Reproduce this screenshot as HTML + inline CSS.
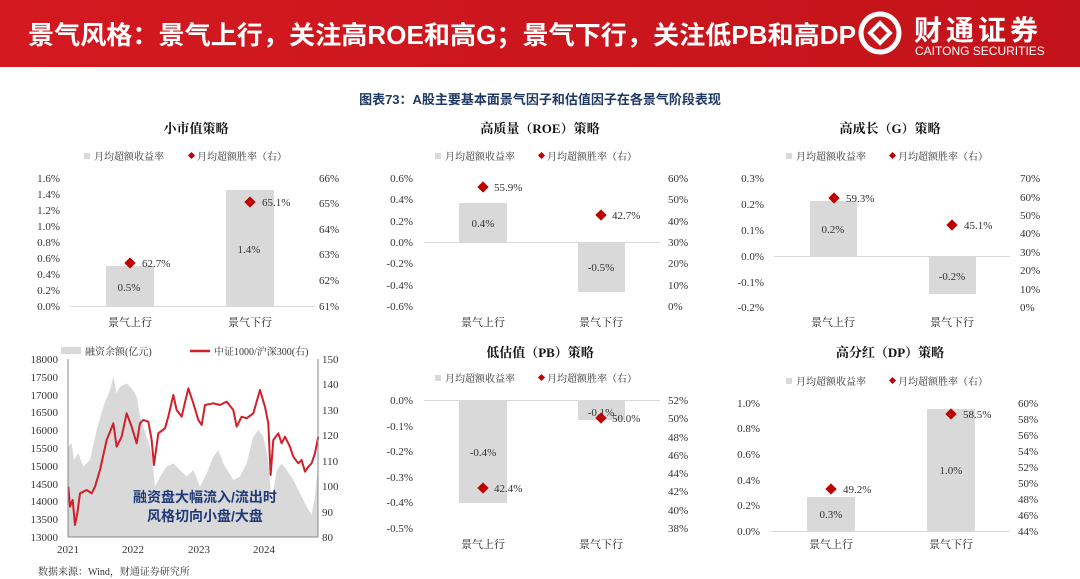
<!DOCTYPE html>
<html><head><meta charset="utf-8"><style>
body{margin:0;background:#fff;}
svg{display:block;}
.t{font-family:"Liberation Serif","Noto Serif CJK SC",serif;font-size:11px;fill:#333;}
.c{font-family:"Liberation Serif","Noto Serif CJK SC",serif;font-size:11px;fill:#222;}
.h{font-family:"Liberation Serif","Noto Serif CJK SC",serif;font-size:13px;font-weight:bold;fill:#111;}
.lg{font-family:"Liberation Serif","Noto Serif CJK SC",serif;font-size:10px;fill:#333;}
</style></head><body>
<svg width="1080" height="579" xmlns="http://www.w3.org/2000/svg">
<defs><linearGradient id="rg" x1="0" x2="1"><stop offset="0" stop-color="#D41920"/><stop offset="1" stop-color="#C3131A"/></linearGradient></defs>
<rect x="0" y="0" width="1080" height="67" fill="url(#rg)"/>
<text x="28" y="44" font-family="Liberation Sans,'Noto Sans CJK SC',sans-serif" font-size="25.5" font-weight="bold" fill="#fff" textLength="828" lengthAdjust="spacingAndGlyphs">景气风格：景气上行，关注高ROE和高G；景气下行，关注低PB和高DP</text>
<circle cx="880" cy="33" r="19" fill="none" stroke="#fff" stroke-width="5"/>
<rect x="871" y="24" width="18" height="18" fill="#fff" transform="rotate(45 880 33)"/>
<rect x="875" y="28" width="10" height="10" fill="#C8161D" transform="rotate(45 880 33)"/>
<text x="914" y="40" font-family="'Noto Sans CJK SC',sans-serif" font-size="28" font-weight="bold" fill="#fff" letter-spacing="4">财通证券</text>
<text x="915" y="55" font-family="Liberation Sans,sans-serif" font-size="12" fill="#fff">CAITONG SECURITIES</text>
<text x="540" y="104" text-anchor="middle" font-family="Liberation Sans,'Noto Sans CJK SC',sans-serif" font-size="13" font-weight="bold" fill="#1F3864">图表73：A股主要基本面景气因子和估值因子在各景气阶段表现</text>

<!-- Panel 1 -->
<text class="h" x="196" y="133" text-anchor="middle">小市值策略</text>
<rect x="84" y="153" width="6" height="6" fill="#d9d9d9"/><text class="lg" x="94" y="160">月均超额收益率</text>
<rect x="189" y="153" width="5" height="5" fill="#C00000" transform="rotate(45 191.5 155.5)"/><text class="lg" x="197" y="160">月均超额胜率（右）</text>
<g class="t" text-anchor="end">
<text x="60" y="182">1.6%</text><text x="60" y="198">1.4%</text><text x="60" y="214">1.2%</text><text x="60" y="230">1.0%</text><text x="60" y="246">0.8%</text><text x="60" y="262">0.6%</text><text x="60" y="278">0.4%</text><text x="60" y="294">0.2%</text><text x="60" y="310">0.0%</text></g>
<g class="t"><text x="319" y="182">66%</text><text x="319" y="207">65%</text><text x="319" y="233">64%</text><text x="319" y="258">63%</text><text x="319" y="284">62%</text><text x="319" y="310">61%</text></g>
<rect x="106" y="266" width="48" height="40" fill="#d9d9d9"/><rect x="226" y="190" width="48" height="116" fill="#d9d9d9"/>
<line x1="70" y1="306.5" x2="315" y2="306.5" stroke="#d9d9d9"/>
<rect x="126" y="259" width="8" height="8" fill="#C00000" transform="rotate(45 130 263)"/><text class="t" x="142" y="267">62.7%</text>
<rect x="246" y="198" width="8" height="8" fill="#C00000" transform="rotate(45 250 202)"/><text class="t" x="262" y="206">65.1%</text>
<text class="t" x="129" y="291" text-anchor="middle">0.5%</text><text class="t" x="249" y="253" text-anchor="middle">1.4%</text>
<text class="c" x="130" y="326" text-anchor="middle">景气上行</text><text class="c" x="250" y="326" text-anchor="middle">景气下行</text>

<!-- Panel 2 ROE -->
<text class="h" x="540" y="133" text-anchor="middle">高质量（ROE）策略</text>
<rect x="435" y="153" width="6" height="6" fill="#d9d9d9"/><text class="lg" x="445" y="160">月均超额收益率</text>
<rect x="539" y="153" width="5" height="5" fill="#C00000" transform="rotate(45 541.5 155.5)"/><text class="lg" x="547" y="160">月均超额胜率（右）</text>
<g class="t" text-anchor="end"><text x="413" y="182">0.6%</text><text x="413" y="203">0.4%</text><text x="413" y="225">0.2%</text><text x="413" y="246">0.0%</text><text x="413" y="267">-0.2%</text><text x="413" y="289">-0.4%</text><text x="413" y="310">-0.6%</text></g>
<g class="t"><text x="668" y="182">60%</text><text x="668" y="203">50%</text><text x="668" y="225">40%</text><text x="668" y="246">30%</text><text x="668" y="267">20%</text><text x="668" y="289">10%</text><text x="668" y="310">0%</text></g>
<rect x="459" y="203" width="48" height="39" fill="#d9d9d9"/><rect x="578" y="242" width="47" height="50" fill="#d9d9d9"/>
<line x1="424" y1="242.5" x2="660" y2="242.5" stroke="#d9d9d9"/>
<rect x="479" y="183" width="8" height="8" fill="#C00000" transform="rotate(45 483 187)"/><text class="t" x="494" y="191">55.9%</text>
<rect x="597" y="211" width="8" height="8" fill="#C00000" transform="rotate(45 601 215)"/><text class="t" x="612" y="219">42.7%</text>
<text class="t" x="483" y="227" text-anchor="middle">0.4%</text><text class="t" x="601" y="271" text-anchor="middle">-0.5%</text>
<text class="c" x="483" y="326" text-anchor="middle">景气上行</text><text class="c" x="601" y="326" text-anchor="middle">景气下行</text>

<!-- Panel 3 G -->
<text class="h" x="890" y="133" text-anchor="middle">高成长（G）策略</text>
<rect x="786" y="153" width="6" height="6" fill="#d9d9d9"/><text class="lg" x="796" y="160">月均超额收益率</text>
<rect x="890" y="153" width="5" height="5" fill="#C00000" transform="rotate(45 892.5 155.5)"/><text class="lg" x="898" y="160">月均超额胜率（右）</text>
<g class="t" text-anchor="end"><text x="764" y="182">0.3%</text><text x="764" y="208">0.2%</text><text x="764" y="234">0.1%</text><text x="764" y="260">0.0%</text><text x="764" y="286">-0.1%</text><text x="764" y="311">-0.2%</text></g>
<g class="t"><text x="1020" y="182">70%</text><text x="1020" y="201">60%</text><text x="1020" y="219">50%</text><text x="1020" y="237">40%</text><text x="1020" y="256">30%</text><text x="1020" y="274">20%</text><text x="1020" y="293">10%</text><text x="1020" y="311">0%</text></g>
<rect x="810" y="201" width="47" height="55" fill="#d9d9d9"/><rect x="929" y="256" width="47" height="38" fill="#d9d9d9"/>
<line x1="774" y1="256.5" x2="1010" y2="256.5" stroke="#d9d9d9"/>
<rect x="830" y="194" width="8" height="8" fill="#C00000" transform="rotate(45 834 198)"/><text class="t" x="846" y="202">59.3%</text>
<rect x="948" y="221" width="8" height="8" fill="#C00000" transform="rotate(45 952 225)"/><text class="t" x="964" y="229">45.1%</text>
<text class="t" x="833" y="233" text-anchor="middle">0.2%</text><text class="t" x="952" y="280" text-anchor="middle">-0.2%</text>
<text class="c" x="833" y="326" text-anchor="middle">景气上行</text><text class="c" x="952" y="326" text-anchor="middle">景气下行</text>

<!-- Panel 4 PB -->
<text class="h" x="540" y="357" text-anchor="middle">低估值（PB）策略</text>
<rect x="435" y="375" width="6" height="6" fill="#d9d9d9"/><text class="lg" x="445" y="382">月均超额收益率</text>
<rect x="539" y="375" width="5" height="5" fill="#C00000" transform="rotate(45 541.5 377.5)"/><text class="lg" x="547" y="382">月均超额胜率（右）</text>
<g class="t" text-anchor="end"><text x="413" y="404">0.0%</text><text x="413" y="430">-0.1%</text><text x="413" y="455">-0.2%</text><text x="413" y="481">-0.3%</text><text x="413" y="506">-0.4%</text><text x="413" y="532">-0.5%</text></g>
<g class="t"><text x="668" y="404">52%</text><text x="668" y="422">50%</text><text x="668" y="441">48%</text><text x="668" y="459">46%</text><text x="668" y="477">44%</text><text x="668" y="495">42%</text><text x="668" y="514">40%</text><text x="668" y="532">38%</text></g>
<rect x="459" y="400" width="48" height="103" fill="#d9d9d9"/><rect x="578" y="400" width="47" height="20" fill="#d9d9d9"/>
<line x1="424" y1="400.5" x2="660" y2="400.5" stroke="#d9d9d9"/>
<text class="t" x="483" y="456" text-anchor="middle">-0.4%</text><text class="t" x="601" y="416" text-anchor="middle">-0.1%</text>
<rect x="479" y="484" width="8" height="8" fill="#C00000" transform="rotate(45 483 488)"/><text class="t" x="494" y="492">42.4%</text>
<rect x="597" y="414" width="8" height="8" fill="#C00000" transform="rotate(45 601 418)"/><text class="t" x="612" y="422">50.0%</text>
<text class="c" x="483" y="548" text-anchor="middle">景气上行</text><text class="c" x="601" y="548" text-anchor="middle">景气下行</text>

<!-- Panel 5 DP -->
<text class="h" x="890" y="357" text-anchor="middle">高分红（DP）策略</text>
<rect x="786" y="378" width="6" height="6" fill="#d9d9d9"/><text class="lg" x="796" y="385">月均超额收益率</text>
<rect x="890" y="378" width="5" height="5" fill="#C00000" transform="rotate(45 892.5 380.5)"/><text class="lg" x="898" y="385">月均超额胜率（右）</text>
<g class="t" text-anchor="end"><text x="760" y="407">1.0%</text><text x="760" y="432">0.8%</text><text x="760" y="458">0.6%</text><text x="760" y="484">0.4%</text><text x="760" y="509">0.2%</text><text x="760" y="535">0.0%</text></g>
<g class="t"><text x="1018" y="407">60%</text><text x="1018" y="423">58%</text><text x="1018" y="439">56%</text><text x="1018" y="455">54%</text><text x="1018" y="471">52%</text><text x="1018" y="487">50%</text><text x="1018" y="503">48%</text><text x="1018" y="519">46%</text><text x="1018" y="535">44%</text></g>
<rect x="807" y="497" width="48" height="34" fill="#d9d9d9"/><rect x="927" y="409" width="48" height="122" fill="#d9d9d9"/>
<line x1="771" y1="531.5" x2="1010" y2="531.5" stroke="#d9d9d9"/>
<rect x="827" y="485" width="8" height="8" fill="#C00000" transform="rotate(45 831 489)"/><text class="t" x="843" y="493">49.2%</text>
<rect x="947" y="410" width="8" height="8" fill="#C00000" transform="rotate(45 951 414)"/><text class="t" x="963" y="418">58.5%</text>
<text class="t" x="831" y="518" text-anchor="middle">0.3%</text><text class="t" x="951" y="474" text-anchor="middle">1.0%</text>
<text class="c" x="831" y="548" text-anchor="middle">景气上行</text><text class="c" x="951" y="548" text-anchor="middle">景气下行</text>

<!-- Panel 6 -->
<rect x="61" y="347" width="20" height="7" fill="#d9d9d9"/><text class="lg" x="85" y="355">融资余额(亿元)</text>
<line x1="190" y1="351" x2="210" y2="351" stroke="#D0202A" stroke-width="2.5"/><text class="lg" x="214" y="355">中证1000/沪深300(右)</text>
<g transform="translate(0,330) scale(0.3333)">
<path fill="#d9d9d9" d="M205,620 L205,350 L215,340 L222,390 L235,370 L250,410 L270,390 L290,300 L310,230 L330,180 L340,140 L350,190 L360,170 L380,160 L395,175 L410,200 L420,260 L440,320 L455,370 L465,470 L480,440 L500,410 L520,400 L540,420 L560,440 L580,420 L600,470 L620,430 L640,380 L655,360 L670,400 L700,450 L720,440 L740,400 L760,320 L775,300 L790,320 L805,390 L815,520 L830,420 L845,400 L860,420 L880,450 L900,490 L920,530 L935,555 L945,500 L955,400 L955,620 Z"/>
<path fill="none" stroke="#D0202A" stroke-width="6" stroke-linejoin="round" d="M205,470 L210,530 L218,510 L225,585 L232,550 L240,490 L260,480 L275,490 L285,470 L300,420 L320,330 L340,280 L350,350 L365,320 L380,250 L395,290 L410,340 L420,280 L430,270 L445,275 L455,330 L462,405 L475,310 L495,295 L505,260 L520,195 L530,240 L545,260 L565,175 L580,220 L595,270 L605,285 L615,225 L640,220 L660,225 L680,215 L700,240 L710,290 L725,260 L740,265 L760,250 L780,180 L795,230 L805,280 L812,435 L820,330 L835,310 L845,340 L855,320 L870,350 L880,380 L895,400 L905,390 L915,425 L925,410 L935,400 L945,370 L955,320"/>
</g>
<line x1="68" y1="359" x2="68" y2="537" stroke="#888"/><line x1="318" y1="359" x2="318" y2="537" stroke="#888"/><line x1="68" y1="537" x2="318" y2="537" stroke="#888"/>
<g class="t" text-anchor="end"><text x="58" y="363">18000</text><text x="58" y="381">17500</text><text x="58" y="399">17000</text><text x="58" y="416">16500</text><text x="58" y="434">16000</text><text x="58" y="452">15500</text><text x="58" y="470">15000</text><text x="58" y="488">14500</text><text x="58" y="505">14000</text><text x="58" y="523">13500</text><text x="58" y="541">13000</text></g>
<g class="t"><text x="322" y="363">150</text><text x="322" y="388">140</text><text x="322" y="414">130</text><text x="322" y="439">120</text><text x="322" y="465">110</text><text x="322" y="490">100</text><text x="322" y="516">90</text><text x="322" y="541">80</text></g>
<g class="t" text-anchor="middle"><text x="68" y="553">2021</text><text x="133" y="553">2022</text><text x="199" y="553">2023</text><text x="264" y="553">2024</text></g>
<g font-family="Liberation Sans,'Noto Sans CJK SC',sans-serif" font-size="14" font-weight="bold" fill="#1F3A7A" text-anchor="middle"><text x="205" y="502">融资盘大幅流入/流出时</text><text x="205" y="521">风格切向小盘/大盘</text></g>
<text class="lg" x="38" y="575">数据来源：Wind，财通证券研究所</text>
</svg>
</body></html>
